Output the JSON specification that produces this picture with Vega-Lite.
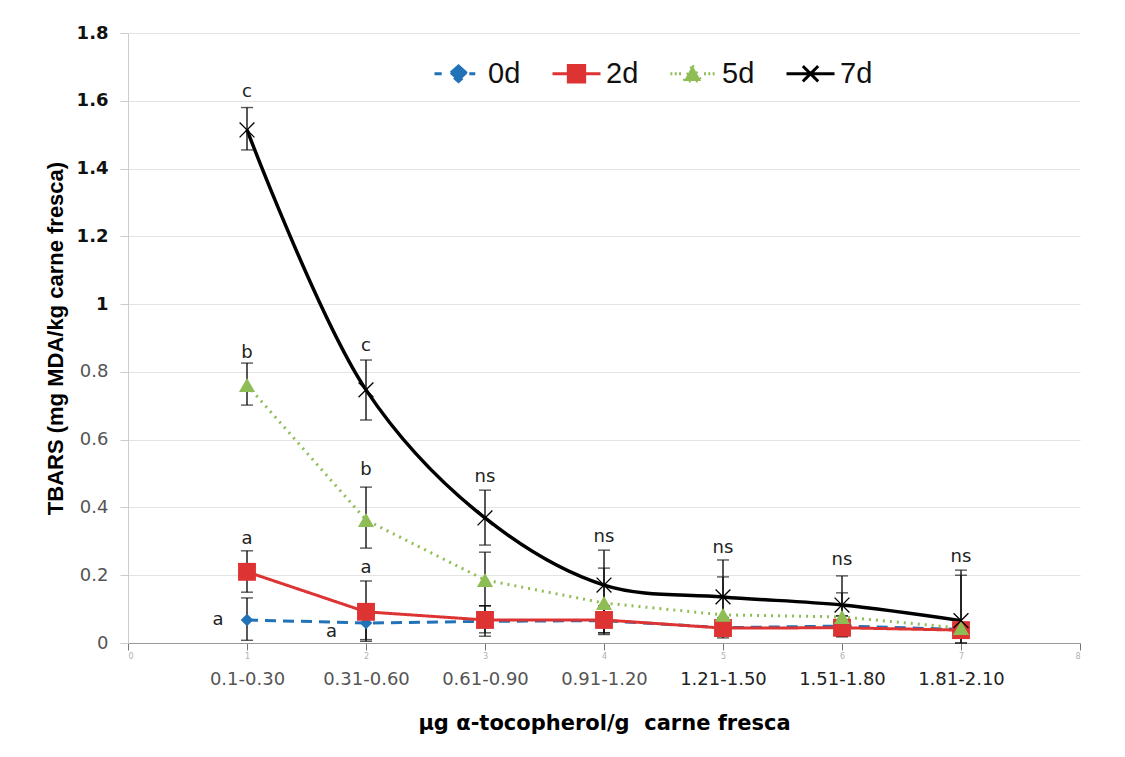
{
  "$schema": "https://vega.github.io/schema/vega-lite/v6.json",
  "width": 952,
  "height": 610,
  "autosize": {"type": "none"},
  "padding": {"left": 128, "top": 33, "right": 45, "bottom": 114},
  "background": "white",
  "config": {"view": {"stroke": null}, "font": "DejaVu Sans"},
  "datasets": {
    "pts": [
      {"s": "0d", "x": 1, "v": 0.068, "lo": 0.008, "hi": 0.133},
      {"s": "0d", "x": 2, "v": 0.059, "lo": 0.005, "hi": 0.115},
      {"s": "0d", "x": 3, "v": 0.064, "lo": 0.02, "hi": 0.11},
      {"s": "0d", "x": 4, "v": 0.066, "lo": 0.025, "hi": 0.11},
      {"s": "0d", "x": 5, "v": 0.045, "lo": 0.02, "hi": 0.07},
      {"s": "0d", "x": 6, "v": 0.05, "lo": 0.02, "hi": 0.08},
      {"s": "0d", "x": 7, "v": 0.04, "lo": 0.02, "hi": 0.06},
      {"s": "2d", "x": 1, "v": 0.21, "lo": 0.15, "hi": 0.272},
      {"s": "2d", "x": 2, "v": 0.092, "lo": 0.01, "hi": 0.183},
      {"s": "2d", "x": 3, "v": 0.068, "lo": 0.03, "hi": 0.11},
      {"s": "2d", "x": 4, "v": 0.068, "lo": 0.03, "hi": 0.105},
      {"s": "2d", "x": 5, "v": 0.044, "lo": 0.015, "hi": 0.075},
      {"s": "2d", "x": 6, "v": 0.045, "lo": 0.018, "hi": 0.08},
      {"s": "2d", "x": 7, "v": 0.038, "lo": 0.02, "hi": 0.06},
      {"s": "5d", "x": 1, "v": 0.761, "lo": 0.702, "hi": 0.826},
      {"s": "5d", "x": 2, "v": 0.363, "lo": 0.28, "hi": 0.46},
      {"s": "5d", "x": 3, "v": 0.186, "lo": 0.11, "hi": 0.268},
      {"s": "5d", "x": 4, "v": 0.118, "lo": 0.03, "hi": 0.221},
      {"s": "5d", "x": 5, "v": 0.083, "lo": 0.03, "hi": 0.195},
      {"s": "5d", "x": 6, "v": 0.077, "lo": 0.02, "hi": 0.148},
      {"s": "5d", "x": 7, "v": 0.044, "lo": 0.0, "hi": 0.2},
      {"s": "7d", "x": 1, "v": 1.514, "lo": 1.455, "hi": 1.58},
      {"s": "7d", "x": 2, "v": 0.747, "lo": 0.658, "hi": 0.835},
      {"s": "7d", "x": 3, "v": 0.369, "lo": 0.289, "hi": 0.451},
      {"s": "7d", "x": 4, "v": 0.171, "lo": 0.07, "hi": 0.274},
      {"s": "7d", "x": 5, "v": 0.136, "lo": 0.03, "hi": 0.245},
      {"s": "7d", "x": 6, "v": 0.112, "lo": 0.02, "hi": 0.198},
      {"s": "7d", "x": 7, "v": 0.066, "lo": 0.0, "hi": 0.215}
    ],
    "ann": [
      {"x": 1, "y": 1.625, "t": "c"},
      {"x": 2, "y": 0.875, "t": "c"},
      {"x": 3, "y": 0.49, "t": "ns"},
      {"x": 4, "y": 0.313, "t": "ns"},
      {"x": 5, "y": 0.28, "t": "ns"},
      {"x": 6, "y": 0.245, "t": "ns"},
      {"x": 7, "y": 0.254, "t": "ns"},
      {"x": 1, "y": 0.856, "t": "b"},
      {"x": 2, "y": 0.51, "t": "b"},
      {"x": 1, "y": 0.308, "t": "a"},
      {"x": 2, "y": 0.221, "t": "a"},
      {"x": 0.756, "y": 0.068, "t": "a"},
      {"x": 1.71, "y": 0.031, "t": "a"}
    ]
  },
  "resolve": {"axis": {"x": "independent"}},
  "layer": [
    {
      "data": {"name": "pts"},
      "transform": [{"filter": "datum.s !== '7d'"}],
      "mark": {"type": "line", "strokeWidth": 3},
      "encoding": {
        "x": {"field": "x", "type": "quantitative",
          "scale": {"domain": [0, 8], "nice": false, "zero": false},
          "axis": {"orient": "bottom", "values": [0, 1, 2, 3, 4, 5, 6, 7, 8], "format": "d", "labelFontSize": 8, "labelColor": "#b0b0b0", "tickSize": 7, "tickColor": "#777", "domainColor": "#999", "labelPadding": 2, "grid": false, "title": null}},
        "y": {"field": "v", "type": "quantitative", "title": "TBARS (mg MDA/kg carne fresca)",
          "scale": {"domain": [0, 1.8], "nice": false},
          "axis": {"values": [0, 0.2, 0.4, 0.6, 0.8, 1, 1.2, 1.4, 1.6, 1.8], "format": ".1~f", "labelFontSize": 18, "labelFont": "DejaVu Sans",
            "labelColor": {"condition": {"test": "datum.value >= 1", "value": "#111"}, "value": "#555"},
            "labelFontWeight": {"condition": {"test": "datum.value >= 1", "value": "bold"}, "value": "normal"},
            "labelPadding": 12, "tickSize": 8, "tickColor": "#ccc", "domainColor": "#ccc", "gridColor": "#e3e3e3",
            "titleFont": "Liberation Sans", "titleFontSize": 22, "titleFontWeight": "bold", "titleColor": "#000", "titlePadding": 9}},
        "color": {"field": "s", "type": "nominal", "scale": {"domain": ["0d", "2d", "5d", "7d"], "range": ["#2272b8", "#dd3333", "#8fbd55", "#000000"]}},
        "strokeDash": {"field": "s", "type": "nominal", "scale": {"domain": ["0d", "2d", "5d", "7d"], "range": [[11, 7], [1, 0], [2, 5], [1, 0]]}, "legend": null}
      }
    },
    {
      "data": {"name": "pts"},
      "transform": [{"filter": "datum.s === '7d'"}],
      "mark": {"type": "line", "strokeWidth": 3.5, "interpolate": "catmull-rom"},
      "encoding": {
        "x": {"field": "x", "type": "quantitative", "axis": null},
        "y": {"field": "v", "type": "quantitative", "title": "TBARS (mg MDA/kg carne fresca)"},
        "color": {"field": "s", "type": "nominal"}
      }
    },
    {
      "data": {"name": "pts"},
      "mark": {"type": "errorbar", "ticks": {"size": 12}, "thickness": 1.4, "color": "#111"},
      "encoding": {
        "x": {"field": "x", "type": "quantitative", "axis": null},
        "y": {"field": "lo", "type": "quantitative", "title": "TBARS (mg MDA/kg carne fresca)"},
        "y2": {"field": "hi"}
      }
    },
    {
      "data": {"name": "pts"},
      "transform": [{"filter": "datum.s === '0d'"}],
      "mark": {"type": "point", "filled": true, "opacity": 1, "shape": "diamond", "size": 160},
      "encoding": {
        "x": {"field": "x", "type": "quantitative", "axis": null},
        "y": {"field": "v", "type": "quantitative", "title": "TBARS (mg MDA/kg carne fresca)"},
        "color": {"field": "s", "type": "nominal"}
      }
    },
    {
      "data": {"name": "pts"},
      "transform": [{"filter": "datum.s === '2d'"}],
      "mark": {"type": "point", "filled": true, "opacity": 1, "shape": "square", "size": 320},
      "encoding": {
        "x": {"field": "x", "type": "quantitative", "axis": null},
        "y": {"field": "v", "type": "quantitative", "title": "TBARS (mg MDA/kg carne fresca)"},
        "color": {"field": "s", "type": "nominal"}
      }
    },
    {
      "data": {"name": "pts"},
      "transform": [{"filter": "datum.s === '5d'"}],
      "mark": {"type": "point", "filled": true, "opacity": 1, "shape": "triangle-up", "size": 260},
      "encoding": {
        "x": {"field": "x", "type": "quantitative", "axis": null},
        "y": {"field": "v", "type": "quantitative", "title": "TBARS (mg MDA/kg carne fresca)"},
        "color": {"field": "s", "type": "nominal"}
      }
    },
    {
      "data": {"name": "pts"},
      "transform": [{"filter": "datum.s === '7d'"}],
      "mark": {"type": "point", "shape": "M-1,-1L1,1M-1,1L1,-1", "filled": false, "size": 220, "strokeWidth": 1.3, "opacity": 1},
      "encoding": {
        "x": {"field": "x", "type": "quantitative", "axis": null},
        "y": {"field": "v", "type": "quantitative", "title": "TBARS (mg MDA/kg carne fresca)"},
        "color": {"field": "s", "type": "nominal"}
      }
    },
    {
      "data": {"name": "pts"},
      "mark": {"type": "point", "filled": true, "opacity": 0},
      "encoding": {
        "x": {"field": "x", "type": "quantitative", "axis": null},
        "y": {"field": "v", "type": "quantitative", "title": "TBARS (mg MDA/kg carne fresca)"},
        "color": {"field": "s", "type": "nominal",
          "legend": {"orient": "none", "legendX": 305, "legendY": 15, "padding": 0, "direction": "horizontal", "title": null,
            "labelFontSize": 29, "labelColor": "#111", "labelFont": "Liberation Sans", "symbolSize": 2304, "symbolStrokeWidth": 3,
            "labelOffset": 4, "columnPadding": 25, "symbolOpacity": 1}},
        "stroke": {"field": "s", "type": "nominal", "scale": {"domain": ["0d", "2d", "5d", "7d"], "range": ["#2272b8", "#dd3333", "#8fbd55", "#000000"]}},
        "shape": {"field": "s", "type": "nominal", "scale": {"domain": ["0d", "2d", "5d", "7d"], "range": [
          "M-1,0L-0.7,0M0.45,0L0.7,0M0,-0.32L0.36,0L0,0.32L-0.36,0Z",
          "M-1,0L1,0M-0.34,-0.34L0.34,-0.34L0.34,0.34L-0.34,0.34Z",
          "M-0.92,0L-0.84,0M-0.74,0L-0.66,0M-0.56,0L-0.48,0M0.48,0L0.56,0M0.66,0L0.74,0M0.84,0L0.92,0M0,-0.34L0.36,0.3L-0.36,0.3Z",
          "M-1,0L1,0M-0.32,-0.32L0.32,0.32M-0.32,0.32L0.32,-0.32"]}}
      }
    },
    {
      "data": {"name": "ann"},
      "mark": {"type": "text", "fontSize": 18, "font": "DejaVu Sans", "color": "#222", "align": "center", "baseline": "middle"},
      "encoding": {
        "x": {"field": "x", "type": "quantitative", "axis": null},
        "y": {"field": "y", "type": "quantitative", "title": "TBARS (mg MDA/kg carne fresca)"},
        "text": {"field": "t"}
      }
    },
    {
      "data": {"name": "pts"},
      "mark": {"type": "point", "opacity": 0},
      "encoding": {
        "x": {"field": "x", "type": "quantitative",
          "axis": {"orient": "bottom", "values": [1, 2, 3, 4, 5, 6, 7],
            "labelExpr": "['', '0.1-0.30', '0.31-0.60', '0.61-0.90', '0.91-1.20', '1.21-1.50', '1.51-1.80', '1.81-2.10'][datum.value]",
            "labelFont": "DejaVu Sans", "labelFontSize": 18, "labelColor": {"condition": {"test": "datum.value >= 5", "value": "#222"}, "value": "#555"},
            "domain": false, "ticks": false, "grid": false, "labelPadding": 27,
            "title": "µg α-tocopherol/g\u00a0 carne fresca", "titleFont": "DejaVu Sans", "titleFontSize": 21, "titleFontWeight": "bold", "titleColor": "#000", "titlePadding": 24}},
        "y": {"field": "v", "type": "quantitative", "title": "TBARS (mg MDA/kg carne fresca)"}
      }
    }
  ]
}
